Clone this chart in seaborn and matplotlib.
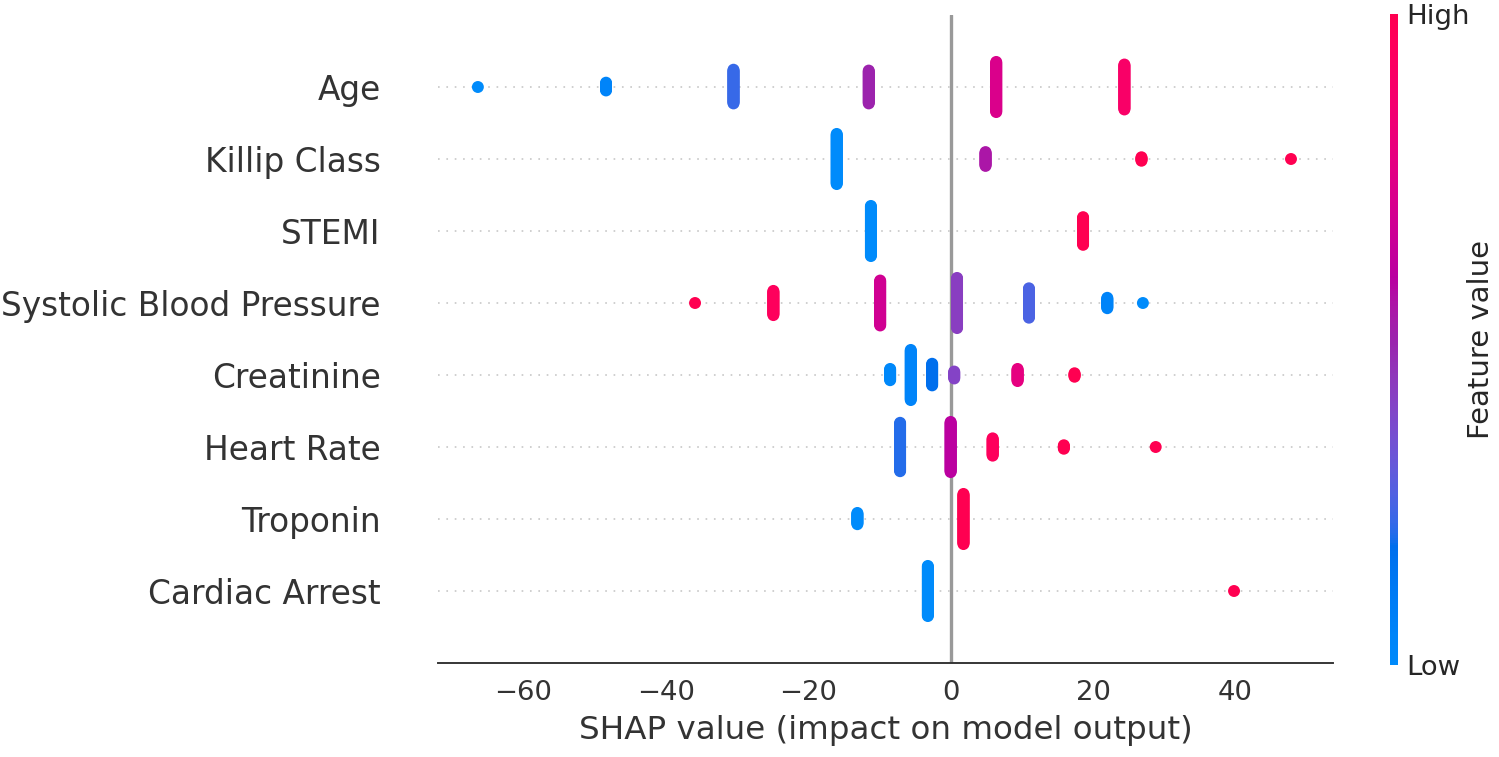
import numpy as np
import pandas as pd
import matplotlib
matplotlib.use("Agg")
import matplotlib.pyplot as plt
from matplotlib.colors import LinearSegmentedColormap, Normalize
import matplotlib.cm as cm
import seaborn as sns

# ------------------------------------------------------------------
# Data: clusters of SHAP values per feature
#   *_shap : SHAP value of the cluster
#   *_n    : number of patients stacked in the cluster
#   *_fv   : normalised feature value (0 = low, 1 = high)
# ------------------------------------------------------------------
features = ["Age", "Killip Class", "STEMI", "Systolic Blood Pressure",
            "Creatinine", "Heart Rate", "Troponin", "Cardiac Arrest"]

age_shap = [-66.4, -48.4, -30.5, -11.5, 6.4, 24.4]
age_n = [1, 10, 40, 39, 59, 53]
age_fv = [0.0, 0.05, 0.22, 0.5, 0.72, 0.9]

killip_shap = [-16.0, 4.9, 26.8, 47.8]
killip_n = [59, 17, 5, 1]
killip_fv = [0.0, 0.55, 1.0, 1.0]

stemi_shap = [-11.2, 18.6]
stemi_n = [59, 33]
stemi_fv = [0.0, 1.0]

sbp_shap = [-35.9, -24.9, -9.9, 0.9, 11.0, 22.0, 27.0]
sbp_n = [1, 29, 53, 59, 35, 13, 1]
sbp_fv = [1.0, 0.95, 0.68, 0.42, 0.25, 0.05, 0.0]

creat_shap = [-8.5, -5.6, -2.6, 0.5, 9.4, 17.4]
creat_n = [14, 59, 26, 9, 15, 5]
creat_fv = [0.02, 0.05, 0.18, 0.4, 0.78, 1.0]

hr_shap = [-7.1, 0.0, 5.9, 15.9, 28.8]
hr_n = [57, 59, 21, 5, 1]
hr_fv = [0.2, 0.6, 0.95, 1.0, 1.0]

trop_shap = [-13.1, 1.8]
trop_n = [14, 59]
trop_fv = [0.0, 1.0]

arrest_shap = [-3.2, 39.8]
arrest_n = [59, 1]
arrest_fv = [0.0, 1.0]

all_shap = [age_shap, killip_shap, stemi_shap, sbp_shap, creat_shap, hr_shap, trop_shap, arrest_shap]
all_n = [age_n, killip_n, stemi_n, sbp_n, creat_n, hr_n, trop_n, arrest_n]
all_fv = [age_fv, killip_fv, stemi_fv, sbp_fv, creat_fv, hr_fv, trop_fv, arrest_fv]


# ------------------------------------------------------------------
# shap-style red/blue colormap (interpolated in LCH space)
# ------------------------------------------------------------------
def lch2rgb(l, c, h):
    a, b = c * np.cos(h), c * np.sin(h)
    fy = (l + 16) / 116
    fx = a / 500 + fy
    fz = fy - b / 200
    f = np.array([fx, fy, fz])
    xyz = np.where(f > 0.2068966, f ** 3, (f - 16 / 116) / 7.787)
    xyz = xyz * np.array([0.95047, 1.0, 1.08883])
    m = np.array([[3.2406, -1.5372, -0.4986],
                  [-0.9689, 1.8758, 0.0415],
                  [0.0557, -0.2040, 1.0570]])
    rgb = m @ xyz
    rgb = np.where(rgb > 0.0031308, 1.055 * np.clip(rgb, 0, None) ** (1 / 2.4) - 0.055, 12.92 * rgb)
    return np.clip(rgb, 0, 1)


blue_lch = [54.0, 70.0, 4.6588]
red_lch = [54.0, 90.0, 0.35470565 + 2 * np.pi]
nsteps = 100
l_vals = list(np.linspace(blue_lch[0], 40.0, nsteps // 2)) + list(np.linspace(40.0, red_lch[0], nsteps // 2))
c_vals = np.linspace(blue_lch[1], red_lch[1], nsteps)
h_vals = np.linspace(blue_lch[2], red_lch[2], nsteps)
colors = [lch2rgb(l, c, h) for l, c, h in zip(l_vals, c_vals, h_vals)]
red_blue = LinearSegmentedColormap.from_list("red_blue", colors)

# ------------------------------------------------------------------
# Build point table (stacked beeswarm offsets like shap)
# ------------------------------------------------------------------
n_feat = len(features)
rows = []
for i, name in enumerate(features):
    pos = n_feat - 1 - i
    offs = []
    for s, n, fv in zip(all_shap[i], all_n[i], all_fv[i]):
        layers = np.arange(n)
        ys = np.ceil(layers / 2) * ((layers % 2) * 2 - 1)
        offs.append((s, fv, ys))
    ymax = max(np.max(o[2] + 1) for o in offs)
    for s, fv, ys in offs:
        ys = ys * 0.9 * (0.4 / ymax)
        for y in ys:
            rows.append({"feature": name, "shap": s, "y": pos + y, "value": fv})
df = pd.DataFrame(rows)

# ------------------------------------------------------------------
# Plot
# ------------------------------------------------------------------
sns.set_style("white")
plt.rcParams["font.family"] = ["DejaVu Sans"]

fig = plt.figure(figsize=(1499 / 172, 757 / 172), dpi=172)
ax = fig.add_axes([438 / 1499, 94 / 757, 895 / 1499, 648 / 757])

ax.axvline(x=0, color="#999999", lw=1.4, zorder=-1)
for pos in range(n_feat):
    ax.axhline(y=pos, color="#c8c8c8", lw=0.7, dashes=(1, 4), zorder=-1)

sns.scatterplot(data=df, x="shap", y="y", hue="value", palette=red_blue,
                hue_norm=(0, 1), s=25, linewidth=0, legend=False, ax=ax, zorder=3)

ax.set_xlim(-72.0, 53.7)
ax.set_ylim(-1, n_feat)
ax.set_yticks(range(n_feat))
ax.set_yticklabels(features[::-1], fontsize=13.7, color="#333333")
ax.tick_params("y", length=0, pad=24)
ax.tick_params("x", labelsize=11.5, colors="#333333")
ax.set_xlabel("SHAP value (impact on model output)", fontsize=13.6, color="#333333")
ax.set_ylabel("")
for side in ["top", "right", "left"]:
    ax.spines[side].set_visible(False)
ax.spines["bottom"].set_color("#333333")

# colour bar
cax = fig.add_axes([1390 / 1499, 92 / 757, 8 / 1499, 651 / 757])
sm = cm.ScalarMappable(cmap=red_blue, norm=Normalize(0, 1))
cb = fig.colorbar(sm, cax=cax, ticks=[0, 1])
cb.set_ticklabels(["Low", "High"])
cb.ax.tick_params(labelsize=11.5, length=0)
cb.set_label("Feature value", size=12.2, labelpad=-1)
cb.outline.set_visible(False)

fig.savefig("out.png", dpi=172)
